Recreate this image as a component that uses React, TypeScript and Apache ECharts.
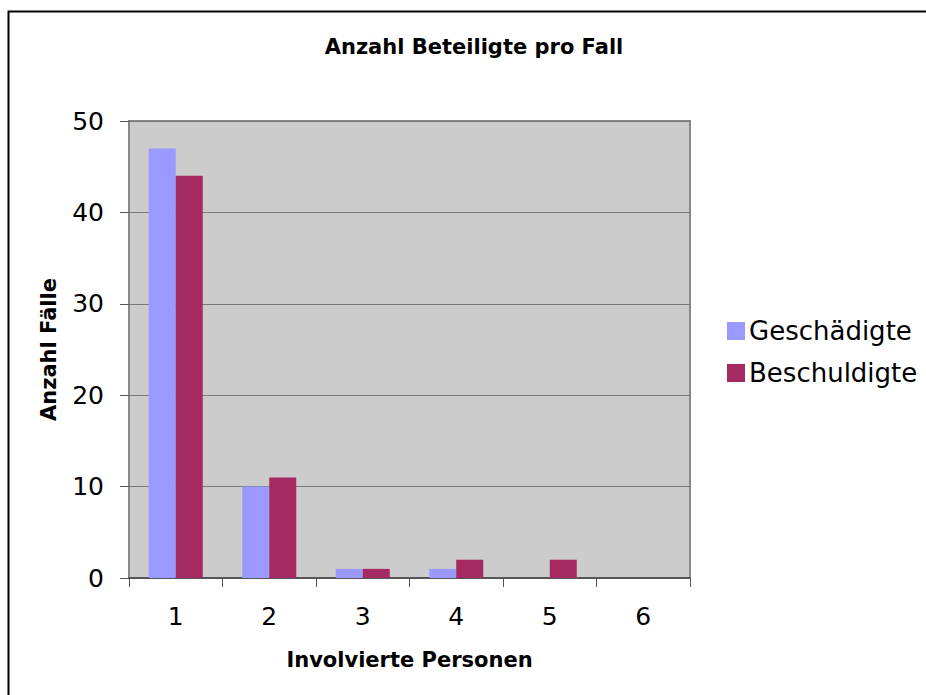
import React, { useEffect, useRef } from "react";
import * as echarts from "echarts";

const categories = ["1", "2", "3", "4", "5", "6"];
const geschaedigte = [47, 10, 1, 1, 0, 0];
const beschuldigte = [44, 11, 1, 2, 2, 0];
const titleText = "Anzahl Beteiligte pro Fall";
const xName = "Involvierte Personen";
const yName = "Anzahl Fälle";
const seriesNames = ["Geschädigte", "Beschuldigte"];

const FONT = "DejaVu Sans, Verdana, sans-serif";

export default function App() {
  const ref = useRef<HTMLDivElement>(null);
  useEffect(() => {
    if (!ref.current) return;
    const chart = echarts.init(ref.current, undefined, { renderer: "svg" });
    const gl = 129, gt = 121, gw = 561, gh = 457;
    chart.setOption({
      animation: false,
      backgroundColor: "#ffffff",
      title: {
        text: titleText,
        left: 469,
        textAlign: "center",
        top: 31,
        textStyle: { fontFamily: FONT, fontSize: 21, fontWeight: "bold", color: "#000" },
      },
      legend: {
        orient: "vertical",
        left: 722,
        top: 313,
        itemWidth: 18,
        itemHeight: 18,
        itemGap: 16,
        icon: "rect",
        textStyle: { fontFamily: FONT, fontSize: 26, color: "#000", padding: [0, 0, 0, -1] },
        data: seriesNames,
      },
      grid: {
        left: gl,
        top: gt,
        width: gw,
        height: gh,
        show: true,
        backgroundColor: "#cccccc",
        borderColor: "#888888",
        borderWidth: 2,
      },
      xAxis: {
        type: "category",
        data: categories,
        name: xName,
        nameLocation: "middle",
        nameGap: 71,
        nameTextStyle: { fontFamily: FONT, fontSize: 21, fontWeight: "bold", color: "#000" },
        axisLine: { show: true, lineStyle: { color: "#555555", width: 2 } },
        axisTick: { show: true, length: 9, alignWithLabel: false, lineStyle: { color: "#555555", width: 1 } },
        axisLabel: { margin: 26, fontFamily: FONT, fontSize: 25, color: "#000" },
        splitLine: { show: false },
      },
      yAxis: {
        type: "value",
        min: 0,
        max: 50,
        interval: 10,
        name: yName,
        nameLocation: "middle",
        nameGap: 70,
        nameTextStyle: { fontFamily: FONT, fontSize: 21, fontWeight: "bold", color: "#000" },
        axisLine: { show: false },
        axisTick: { show: true, length: 9, lineStyle: { color: "#555555", width: 1 } },
        axisLabel: { margin: 25, fontFamily: FONT, fontSize: 25, color: "#000" },
        splitLine: { show: true, lineStyle: { color: "#777777", width: 1 } },
      },
      series: [
        {
          name: seriesNames[0],
          type: "bar",
          data: geschaedigte,
          barWidth: 27,
          barGap: "0%",
          itemStyle: { color: "#9999ff" },
        },
        {
          name: seriesNames[1],
          type: "bar",
          data: beschuldigte,
          barWidth: 27,
          barGap: "0%",
          itemStyle: { color: "#a52a62" },
        },
      ],
      graphic: [
        {
          type: "rect",
          shape: { x: 8.5, y: 11.5, width: 1000, height: 1000 },
          style: { fill: "none", stroke: "#000", lineWidth: 2 },
          silent: true,
        },
      ],
    });
    return () => chart.dispose();
  }, []);
  return (
    <div
      ref={ref}
      style={{ position: "absolute", left: 0, top: 0, width: 926, height: 695 }}
    />
  );
}
